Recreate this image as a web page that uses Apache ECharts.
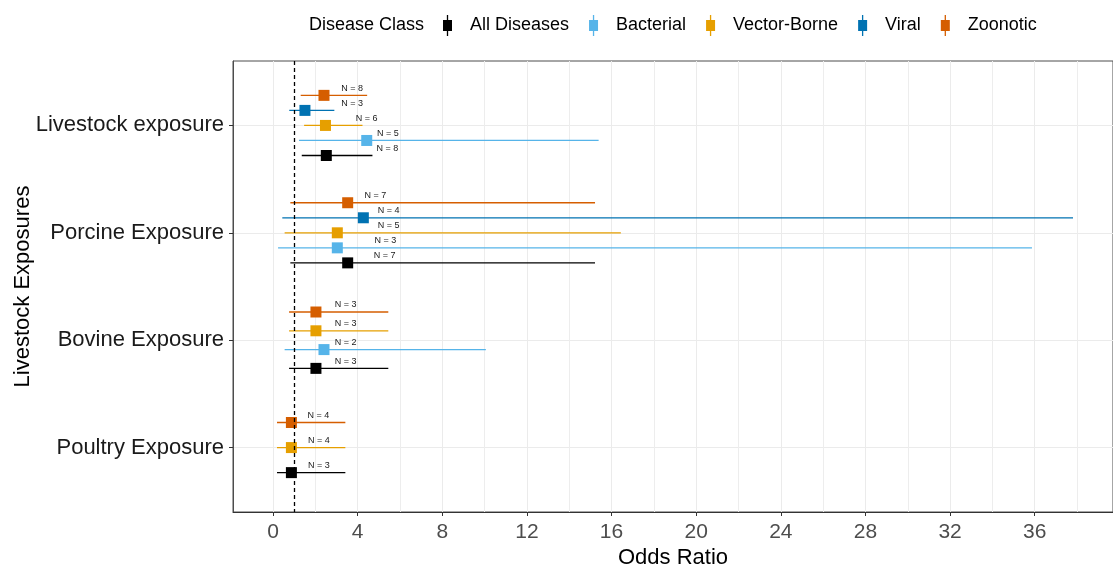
<!DOCTYPE html>
<html>
<head>
<meta charset="utf-8">
<script src="https://cdn.jsdelivr.net/npm/echarts@6/dist/echarts.min.js"></script>
<style>
  html, body { margin: 0; padding: 0; background: #ffffff; }
  #chart { width: 1113px; height: 570px; }
</style>
</head>
<body>
<div id="chart"></div>
<script>
// Exposure categories, top to bottom
const categories = ['Livestock exposure', 'Porcine Exposure', 'Bovine Exposure', 'Poultry Exposure'];

// Disease classes (legend order)
const classes = ['All Diseases', 'Bacterial', 'Vector-Borne', 'Viral', 'Zoonotic'];

// Per class, one row per exposure category: [odds ratio, lower CI, upper CI, N]; null = not estimated
const allDiseases = [[2.52, 1.36, 4.70, 8], [3.53, 0.82, 15.22, 7], [2.03, 0.76, 5.45, 3], [0.87, 0.19, 3.42, 3]];
const bacterial   = [[4.43, 1.23, 15.39, 5], [3.04, 0.24, 35.87, 3], [2.41, 0.55, 10.06, 2], null];
const vectorBorne = [[2.48, 1.47, 4.23, 6], [3.04, 0.55, 16.44, 5], [2.03, 0.76, 5.45, 3], [0.87, 0.19, 3.42, 4]];
const viral       = [[1.51, 0.77, 2.90, 3], [4.27, 0.44, 37.81, 4], null, null];
const zoonotic    = [[2.41, 1.31, 4.45, 8], [3.53, 0.82, 15.22, 7], [2.03, 0.76, 5.45, 3], [0.87, 0.19, 3.42, 4]];

// Where each "N = …" annotation sits along the odds-ratio axis
const allDiseasesLabelAt = [5.41, 5.28, 3.43, 2.17];
const bacterialLabelAt   = [5.43, 5.31, 3.43, null];
const vectorBorneLabelAt = [4.42, 5.47, 3.43, 2.17];
const viralLabelAt       = [3.74, 5.47, null, null];
const zoonoticLabelAt    = [3.74, 4.84, 3.43, 2.14];

// Odds-ratio axis ticks and the null-effect reference
const xTicks = [0, 4, 8, 12, 16, 20, 24, 28, 32, 36];
const xMinorGrid = [2, 6, 10, 14, 18, 22, 26, 30, 34, 38];
const nullEffect = 1;

const classRows = [allDiseases, bacterial, vectorBorne, viral, zoonotic];
const classLabelAt = [allDiseasesLabelAt, bacterialLabelAt, vectorBorneLabelAt, viralLabelAt, zoonoticLabelAt];
const classColors = ['#000000', '#56B4E9', '#E69F00', '#0072B2', '#D55E00'];

const FONT = '"Liberation Sans", Arial, Helvetica, sans-serif';
const DODGE_WIDTH = 0.7;

// Dodge: within a category, classes stack from Zoonotic (top) down to All Diseases
function dodgedY(catIdx, clsIdx) {
  const present = [];
  for (let c = classes.length - 1; c >= 0; c--) {
    if (classRows[c][catIdx]) present.push(c);
  }
  const m = present.length;
  const k = present.indexOf(clsIdx);
  return catIdx + 1 + (k - (m - 1) / 2) * DODGE_WIDTH / m;
}

function renderItem(params, api) {
  const y = api.value(3);
  const pLo = api.coord([api.value(1), y]);
  const pHi = api.coord([api.value(2), y]);
  const p = api.coord([api.value(0), y]);
  const lab = api.coord([api.value(5), y]);
  const color = api.visual('color');
  const half = 5.5;
  return {
    type: 'group',
    children: [
      { type: 'line', shape: { x1: pLo[0], y1: pLo[1], x2: pHi[0], y2: pHi[1] },
        style: { stroke: color, lineWidth: 1.3 } },
      { type: 'rect', shape: { x: p[0] - half, y: p[1] - half, width: half * 2, height: half * 2 },
        style: { fill: color } },
      { type: 'text', x: lab[0], y: lab[1] - 7,
        style: { text: 'N = ' + api.value(4), fill: '#1a1a1a', font: '9px ' + FONT,
                 align: 'center', verticalAlign: 'middle' } }
    ]
  };
}

const series = classes.map((name, ci) => {
  const data = [];
  classRows[ci].forEach((row, gi) => {
    if (!row) return;
    data.push([row[0], row[1], row[2], dodgedY(gi, ci), row[3], classLabelAt[ci][gi]]);
  });
  return {
    name: name,
    type: 'custom',
    renderItem: renderItem,
    color: classColors[ci],
    encode: { x: [0, 1, 2], y: 3 },
    data: data,
    z: 3
  };
});

// Dashed vertical reference line at OR = 1
series.push({
  name: 'reference',
  type: 'line',
  data: [],
  silent: true,
  z: 4,
  markLine: {
    silent: true,
    symbol: ['none', 'none'],
    label: { show: false },
    lineStyle: { color: '#000000', width: 1.3, type: [4, 3] },
    data: [{ xAxis: nullEffect }]
  }
});

// Legend key: square marker crossed by a vertical error bar
const legendIcon = 'path://M0,5 L9,5 L9,16 L0,16 Z M3.85,0 L5.15,0 L5.15,21 L3.85,21 Z';

const X_MIN = -1.89, X_MAX = 39.70;

const option = {
  animation: false,
  backgroundColor: '#ffffff',
  title: {
    text: 'Disease Class',
    left: 309,
    top: 16,
    padding: 0,
    textStyle: { fontFamily: FONT, fontSize: 18, fontWeight: 'normal', color: '#000000' }
  },
  legend: {
    data: classes,
    left: 443,
    top: 15,
    padding: 0,
    itemWidth: 9,
    itemHeight: 21,
    itemGap: 20,
    icon: legendIcon,
    selectedMode: false,
    textStyle: { fontFamily: FONT, fontSize: 18, color: '#000000', padding: [0, 0, 0, 13] }
  },
  grid: {
    left: 233,
    right: 0,
    top: 61,
    bottom: 58,
    show: true,
    borderColor: '#4d4d4d',
    borderWidth: 1,
    containLabel: false,
    outerBoundsMode: 'none'
  },
  xAxis: [
    {
      type: 'value',
      min: X_MIN,
      max: X_MAX,
      name: 'Odds Ratio',
      nameLocation: 'middle',
      nameGap: 35,
      nameMoveOverlap: false,
      nameTextStyle: { fontFamily: FONT, fontSize: 22, color: '#000000' },
      axisLine: { show: true, onZero: false, lineStyle: { color: '#333333', width: 1 } },
      axisTick: { show: true, length: 4, customValues: xTicks, lineStyle: { color: '#333333' } },
      axisLabel: { customValues: xTicks, margin: 10, fontFamily: FONT, fontSize: 21, color: '#4d4d4d' },
      splitLine: { show: true, lineStyle: { color: '#ebebeb', width: 1 } }
    },
    {
      type: 'value',
      min: X_MIN,
      max: X_MAX,
      position: 'bottom',
      axisLine: { show: false },
      axisTick: { show: false, customValues: xMinorGrid },
      axisLabel: { show: false, customValues: xMinorGrid },
      splitLine: { show: true, lineStyle: { color: '#ededed', width: 1 } }
    }
  ],
  yAxis: {
    type: 'value',
    inverse: true,
    min: 0.4,
    max: 4.6,
    name: 'Livestock Exposures',
    nameLocation: 'middle',
    nameGap: 199,
    nameMoveOverlap: false,
    nameTextStyle: { fontFamily: FONT, fontSize: 22, color: '#000000' },
    axisLine: { show: true, onZero: false, lineStyle: { color: '#4d4d4d', width: 1 } },
    axisTick: { show: true, length: 4, customValues: [1, 2, 3, 4], lineStyle: { color: '#333333' } },
    axisLabel: {
      customValues: [1, 2, 3, 4],
      margin: 9,
      fontFamily: FONT,
      fontSize: 22,
      color: '#1a1a1a',
      formatter: v => categories[Math.round(v) - 1] || ''
    },
    splitLine: { show: true, lineStyle: { color: '#ebebeb', width: 1 } }
  },
  series: series
};

const chart = echarts.init(document.getElementById('chart'), null, { renderer: 'canvas' });
chart.setOption(option);
</script>
</body>
</html>
